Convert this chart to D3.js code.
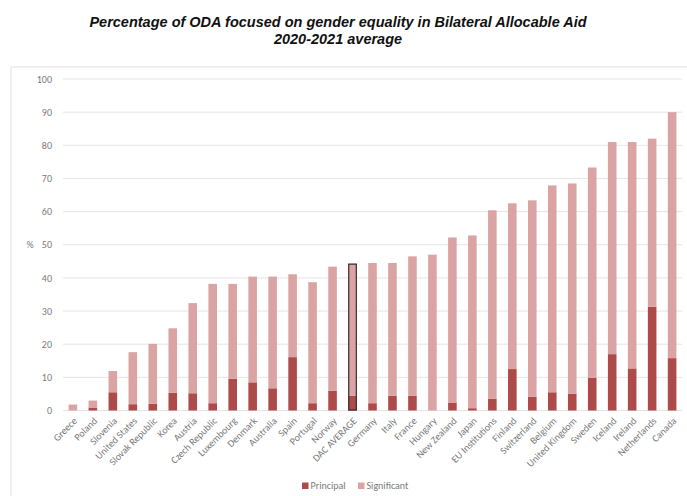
<!DOCTYPE html>
<html>
<head>
<meta charset="utf-8">
<script src="https://cdn.jsdelivr.net/npm/d3@7"></script>
<style>
  html, body { margin: 0; padding: 0; background: #fff; }
  svg { display: block; }
</style>
</head>
<body>
<script>
// Donors, ordered by total share of gender-focused aid
const countries = ["Greece","Poland","Slovenia","United States","Slovak Republic","Korea","Austria",
  "Czech Republic","Luxembourg","Denmark","Australia","Spain","Portugal","Norway","DAC AVERAGE",
  "Germany","Italy","France","Hungary","New Zealand","Japan","EU Institutions","Finland",
  "Switzerland","Belgium","United Kingdom","Sweden","Iceland","Ireland","Netherlands","Canada"];

// Gender equality as principal objective (%)
const principal = [0,0.9,5.5,1.9,2.0,5.4,5.2,2.2,9.6,8.5,6.7,16.1,2.2,6.0,4.5,
  2.2,4.4,4.4,0,2.4,0.7,3.5,12.5,4.2,5.5,5.0,9.9,17.0,12.7,31.3,15.8];

// Gender equality as significant objective (%)
const significant = [1.8,2.1,6.4,15.7,18.1,19.4,27.2,36.0,28.6,31.9,33.7,25.0,36.5,37.4,39.8,
  42.3,40.1,42.1,47.0,49.8,52.1,56.9,50.0,59.2,62.4,63.5,63.4,64.0,68.3,50.7,74.2];

const yTicks = [0,10,20,30,40,50,60,70,80,90,100];
const seriesNames = ["Principal","Significant"];
const colors = {Principal: "#ad4a4a", Significant: "#dba4a4"};

const W = 687, H = 496;
const margin = {left: 63, right: 5, top: 79, bottom: 86};
const labelFont = "Carlito, Calibri, 'Open Sans', sans-serif";

const svg = d3.select("body").append("svg").attr("width", W).attr("height", H);

// Title
const title = svg.append("text").attr("text-anchor", "middle")
  .style("font-family", "Arial, 'Liberation Sans', sans-serif")
  .style("font-weight", "bold").style("font-style", "italic")
  .style("font-size", "14.5px").attr("fill", "#111");
title.append("tspan").attr("x", 338).attr("y", 27).text("Percentage of ODA focused on gender equality in Bilateral Allocable Aid");
title.append("tspan").attr("x", 338).attr("y", 44).text("2020-2021 average");

// Chart frame
svg.append("rect").attr("x", 11).attr("y", 67).attr("width", 690).attr("height", 440)
  .attr("fill", "none").attr("stroke", "#e2e2e2").attr("stroke-width", 1);

const x = d3.scaleBand().domain(countries)
  .range([margin.left, 682]).paddingInner(0.57).paddingOuter(0.28);
const y = d3.scaleLinear().domain([0, 100]).range([410.5, 79]);

// Gridlines
svg.append("g").selectAll("line").data(yTicks).join("line")
  .attr("x1", margin.left).attr("x2", 682)
  .attr("y1", d => y(d)).attr("y2", d => y(d))
  .attr("stroke", "#e4e4e4").attr("stroke-width", 1);

// Y axis labels
const yAxis = svg.append("g").attr("transform", `translate(${margin.left},0)`)
  .call(d3.axisLeft(y).tickValues(yTicks).tickSize(0).tickPadding(11));
yAxis.select(".domain").remove();
yAxis.selectAll("text").style("font-family", labelFont)
  .style("font-size", "10px").attr("fill", "#7a7a7a");

svg.append("text").attr("x", 30).attr("y", y(50) + 3).attr("text-anchor", "middle")
  .style("font-family", labelFont)
  .style("font-size", "10px").attr("fill", "#7a7a7a").text("%");

// Stacked bars
const rows = countries.map((c, i) => ({country: c, Principal: principal[i], Significant: significant[i]}));
const stacked = d3.stack().keys(seriesNames)(rows);

svg.append("g").selectAll("g").data(stacked).join("g")
  .attr("fill", d => colors[d.key])
  .selectAll("rect").data(d => d).join("rect")
  .attr("x", d => x(d.data.country))
  .attr("width", x.bandwidth())
  .attr("y", d => y(d[1]))
  .attr("height", d => y(d[0]) - y(d[1]));

// Outline for the DAC average bar
const avgIdx = countries.indexOf("DAC AVERAGE");
svg.append("rect")
  .attr("x", x("DAC AVERAGE") + 0.5)
  .attr("width", x.bandwidth() - 1)
  .attr("y", y(principal[avgIdx] + significant[avgIdx]) + 0.5)
  .attr("height", y(0) - y(principal[avgIdx] + significant[avgIdx]) - 1)
  .attr("fill", "none").attr("stroke", "#3a3030").attr("stroke-width", 1.2);

// Category labels, rotated
const xAxis = svg.append("g").attr("transform", `translate(0,${y(0)})`)
  .call(d3.axisBottom(x).tickSize(0).tickPadding(0));
xAxis.select(".domain").remove();
xAxis.selectAll("text")
  .style("font-family", labelFont)
  .style("font-size", "10px").attr("fill", "#7a7a7a")
  .attr("text-anchor", "end").attr("dy", "0")
  .attr("transform", "translate(5,11) rotate(-45)");

// Legend
const legend = svg.append("g").attr("transform", "translate(302,489)");
const legendItems = [{name: "Principal", x: 0}, {name: "Significant", x: 56}];
legendItems.forEach(it => {
  legend.append("rect").attr("x", it.x).attr("y", -6.5).attr("width", 6.5).attr("height", 6.5)
    .attr("fill", colors[it.name]);
  legend.append("text").attr("x", it.x + 8.5).attr("y", 0)
    .style("font-family", labelFont)
    .style("font-size", "10px").attr("fill", "#7a7a7a").text(it.name);
});
</script>
</body>
</html>
